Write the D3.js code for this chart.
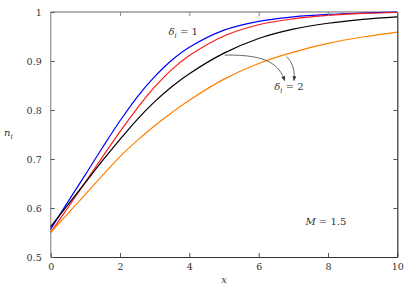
<!DOCTYPE html>
<html>
<head>
<meta charset="utf-8">
<script src="https://cdn.jsdelivr.net/npm/d3@7"></script>
<style>
  body { margin: 0; background: #fff; }
</style>
</head>
<body>
<svg id="chart" width="416" height="290"></svg>
<script>
// sample positions along x
var xs = [0, 0.5, 1, 1.5, 2, 2.5, 3, 3.5, 4, 5, 6, 7, 8, 9, 10];
// n_i values, one array per curve
var blueN   = [0.557, 0.613, 0.668, 0.724, 0.778, 0.827, 0.868, 0.902, 0.928, 0.963, 0.981, 0.990, 0.995, 0.998, 1.000];
var redN    = [0.550, 0.601, 0.653, 0.705, 0.756, 0.804, 0.847, 0.883, 0.911, 0.951, 0.974, 0.986, 0.993, 0.997, 0.999];
var blackN  = [0.562, 0.607, 0.652, 0.697, 0.740, 0.781, 0.817, 0.848, 0.874, 0.916, 0.946, 0.965, 0.977, 0.985, 0.990];
var orangeN = [0.550, 0.589, 0.628, 0.667, 0.705, 0.738, 0.768, 0.795, 0.820, 0.863, 0.895, 0.918, 0.936, 0.949, 0.959];
var xTicks = [0, 2, 4, 6, 8, 10];
var yTicks = [0.5, 0.6, 0.7, 0.8, 0.9, 1];

var FONT = "'DejaVu Serif', serif";

var series = [
	{vals: blueN,   col: "#0000ff"},
	{vals: redN,    col: "#ff1a1a"},
	{vals: blackN,  col: "#000000"},
	{vals: orangeN, col: "#ff8000"}
];

var svg = d3.select("#chart");
var x = d3.scaleLinear().domain([0, 10]).range([50.7, 397.3]);
var y = d3.scaleLinear().domain([0.5, 1]).range([257, 12]);

var fmt = function(d){ return d === 1 ? "1" : d3.format(".1f")(d); };

// frame: top and left gray, bottom and right dark
svg.append("line").attr("x1", x(0)).attr("x2", x(10)).attr("y1", y(1)).attr("y2", y(1))
	.attr("stroke", "#999").attr("stroke-width", 1.3);
svg.append("line").attr("x1", x(0)).attr("x2", x(0)).attr("y1", y(0.5)).attr("y2", y(1))
	.attr("stroke", "#999").attr("stroke-width", 1.3);

// curves
var line = d3.line()
	.x(function(d){ return x(d[0]); })
	.y(function(d){ return y(d[1]); })
	.curve(d3.curveCatmullRom.alpha(0.5));

series.forEach(function(s){
	svg.append("path")
		.datum(xs.map(function(v, i){ return [v, s.vals[i]]; }))
		.attr("d", line)
		.attr("fill", "none")
		.attr("stroke", s.col)
		.attr("stroke-width", 1.2);
});

// axes
var gBottom = svg.append("g").attr("transform", "translate(0," + y(0.5) + ")")
	.call(d3.axisBottom(x).tickValues(xTicks).tickSizeInner(-4).tickSizeOuter(0).tickPadding(6));
var gLeft = svg.append("g").attr("transform", "translate(" + x(0) + ",0)")
	.call(d3.axisLeft(y).tickValues(yTicks).tickFormat(fmt).tickSizeInner(-4).tickSizeOuter(0).tickPadding(9));
var gRight = svg.append("g").attr("transform", "translate(" + x(10) + ",0)")
	.call(d3.axisRight(y).tickValues(yTicks.slice(1, -1)).tickSizeInner(-4).tickSizeOuter(0).tickFormat(""));
var gTop = svg.append("g").attr("transform", "translate(0," + y(1) + ")")
	.call(d3.axisTop(x).tickValues(xTicks.slice(1, -1)).tickSizeInner(-4).tickSizeOuter(0).tickFormat(""));

gBottom.select(".domain").attr("stroke", "#333").attr("stroke-width", 1.2);
gRight.select(".domain").attr("stroke", "#333").attr("stroke-width", 1.2);
gLeft.select(".domain").remove();
gTop.select(".domain").remove();
svg.selectAll(".tick line").attr("stroke", "#555");
gTop.selectAll(".tick line").attr("stroke", "#888");
svg.selectAll(".tick text").style("font-family", FONT).attr("font-size", 9.5).attr("fill", "#333");

// axis titles
svg.append("text").attr("x", x(5)).attr("y", 283).attr("text-anchor", "middle")
	.style("font-family", FONT).attr("fill", "#333")
	.attr("font-style", "italic").attr("font-size", 10).text("x");
var nt = svg.append("text").attr("x", 4).attr("y", 136).style("font-family", FONT).attr("fill", "#333")
	.attr("font-style", "italic").attr("font-size", 10);
nt.append("tspan").text("n");
nt.append("tspan").attr("dy", 3).attr("font-size", 7).text("i");

// labels
function deltaLabel(px, py, val){
	var t = svg.append("text").attr("x", px).attr("y", py).attr("font-size", 10)
		.style("font-family", FONT).attr("fill", "#333");
	t.append("tspan").attr("font-style", "italic").text("δ");
	t.append("tspan").attr("font-style", "italic").attr("dy", 3).attr("font-size", 7).text("i");
	t.append("tspan").attr("dy", -3).text(" = " + val);
}
deltaLabel(x(3.4), y(0.953), 1);
deltaLabel(x(6.45), y(0.84), 2);

var mt = svg.append("text").attr("x", x(7.35)).attr("y", y(0.565)).attr("font-size", 10)
	.style("font-family", FONT).attr("fill", "#333");
mt.append("tspan").attr("font-style", "italic").text("M");
mt.append("tspan").text(" = 1.5");

// arrows
svg.append("defs").append("marker")
	.attr("id", "ah").attr("viewBox", "0 0 10 10").attr("refX", 9).attr("refY", 5)
	.attr("markerWidth", 6).attr("markerHeight", 6).attr("orient", "auto")
	.append("path").attr("d", "M0,1 L10,5 L0,9 Z").attr("fill", "#333");

var arrows = [
	[[5.02, 0.912], [6.3, 0.914], [6.6, 0.89], [6.75, 0.86]],
	[[6.8, 0.909], [6.98, 0.898], [7.05, 0.88], [7.02, 0.86]]
];
arrows.forEach(function(a){
	svg.append("path")
		.attr("d", "M" + x(a[0][0]) + "," + y(a[0][1]) +
			" C" + x(a[1][0]) + "," + y(a[1][1]) + " " + x(a[2][0]) + "," + y(a[2][1]) +
			" " + x(a[3][0]) + "," + y(a[3][1]))
		.attr("fill", "none").attr("stroke", "#444").attr("stroke-width", 0.8)
		.attr("marker-end", "url(#ah)");
});
</script>
</body>
</html>
